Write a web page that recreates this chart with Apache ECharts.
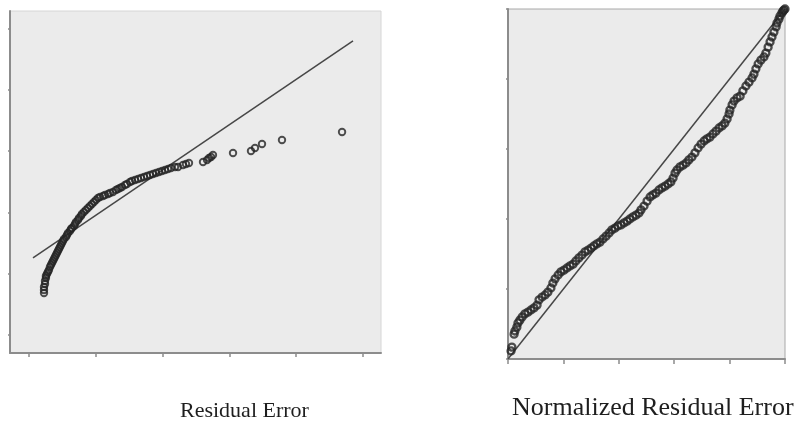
<!DOCTYPE html>
<html>
<head>
<meta charset="utf-8">
<script src="https://cdn.jsdelivr.net/npm/echarts@6/dist/echarts.min.js"></script>
<style>
  html, body { margin: 0; padding: 0; background: #fff; }
  #chart { width: 801px; height: 422px; }
</style>
</head>
<body>
<div id="chart"></div>
<script>
// Q-Q plot of the residual error (observed value, expected normal value)
var qqObserved = [
  2.25, 2.25, 2.25, 2.40, 2.40, 2.54, 2.54, 2.69, 2.84, 2.99, 3.14, 3.29, 3.44, 3.59, 3.74,
  3.89, 4.04, 4.19, 4.34, 4.49, 4.64, 4.79, 4.94, 5.09, 5.24, 5.54, 5.69, 5.84, 6.14, 6.29,
  6.44, 6.74, 6.89, 7.04, 7.34, 7.49, 7.78, 7.93, 8.23, 8.53, 8.83, 9.13, 9.43, 9.73, 10.03,
  10.33, 10.63, 11.08, 11.38, 11.83, 12.13, 12.57, 13.02, 13.32, 13.62, 13.92, 14.37, 14.67,
  15.12, 15.42, 15.87, 16.32, 16.77, 17.22, 17.66, 18.11, 18.56, 19.01, 19.46, 19.91, 20.36,
  20.81, 21.26, 21.86, 22.31, 23.05, 23.50, 23.95, 26.05, 26.65, 26.95, 27.25, 27.54, 30.54,
  33.23, 33.83, 34.88, 37.87, 46.86
];
var qqExpected = [
  6.85, 7.34, 7.83, 8.32, 8.81, 9.30, 9.62, 9.95, 10.28, 10.60, 11.09, 11.42, 11.75, 12.07, 12.40,
  12.72, 13.05, 13.38, 13.70, 14.03, 14.36, 14.68, 15.01, 15.33, 15.66, 15.99, 16.31, 16.64, 16.97, 17.29,
  17.46, 17.78, 18.11, 18.43, 18.76, 19.09, 19.41, 19.74, 20.07, 20.39, 20.72, 21.04, 21.37, 21.70, 22.02,
  22.35, 22.51, 22.68, 22.84, 23.00, 23.16, 23.33, 23.65, 23.82, 23.98, 24.14, 24.47, 24.63,
  24.96, 25.12, 25.29, 25.45, 25.61, 25.77, 25.94, 26.10, 26.26, 26.43, 26.59, 26.75, 26.92,
  27.08, 27.24, 27.41, 27.41, 27.73, 27.90, 28.06, 28.22, 28.55, 28.87, 29.04, 29.36, 29.69,
  30.02, 30.51, 31.16, 31.81, 33.12
];
var qqLineX = [0.6, 48.5];
var qqLineY = [12.56, 47.96];
var qqTicks = [0, 10, 20, 30, 40, 50];

// P-P plot of the normalized residual error (observed cum prob, expected cum prob)
var ppObserved = [
  0.011, 0.014, 0.022, 0.025, 0.032, 0.036, 0.043, 0.051, 0.061, 0.072, 0.083, 0.094, 0.105, 0.112,
  0.123, 0.134, 0.144, 0.155, 0.162, 0.170, 0.181, 0.191, 0.202, 0.213, 0.224, 0.235, 0.245, 0.256,
  0.267, 0.278, 0.289, 0.300, 0.310, 0.321, 0.332, 0.343, 0.354, 0.365, 0.375, 0.386, 0.397, 0.408,
  0.419, 0.430, 0.440, 0.451, 0.462, 0.473, 0.480, 0.491, 0.502, 0.513, 0.523, 0.534, 0.545, 0.556,
  0.567, 0.578, 0.588, 0.596, 0.603, 0.610, 0.621, 0.632, 0.643, 0.653, 0.664, 0.675, 0.686, 0.697,
  0.708, 0.718, 0.729, 0.740, 0.751, 0.762, 0.773, 0.783, 0.791, 0.798, 0.801, 0.809, 0.816, 0.827,
  0.838, 0.848, 0.859, 0.870, 0.881, 0.888, 0.895, 0.903, 0.913, 0.924, 0.931, 0.939, 0.946, 0.953,
  0.960, 0.968, 0.971, 0.978, 0.982, 0.989, 0.993, 0.996, 1.000
];
var ppExpected = [
  0.023, 0.034, 0.071, 0.080, 0.091, 0.103, 0.111, 0.120, 0.129, 0.134, 0.140, 0.146, 0.154, 0.169,
  0.177, 0.183, 0.191, 0.203, 0.217, 0.229, 0.240, 0.249, 0.254, 0.260, 0.266, 0.271, 0.280, 0.289,
  0.297, 0.306, 0.311, 0.317, 0.323, 0.329, 0.334, 0.343, 0.351, 0.360, 0.369, 0.374, 0.380, 0.383,
  0.389, 0.394, 0.400, 0.406, 0.411, 0.417, 0.426, 0.437, 0.451, 0.463, 0.469, 0.474, 0.483, 0.489,
  0.494, 0.500, 0.506, 0.517, 0.531, 0.540, 0.549, 0.554, 0.560, 0.569, 0.577, 0.589, 0.603, 0.614,
  0.623, 0.629, 0.634, 0.643, 0.651, 0.660, 0.666, 0.674, 0.686, 0.700, 0.711, 0.726, 0.737, 0.746,
  0.751, 0.766, 0.780, 0.791, 0.803, 0.814, 0.829, 0.843, 0.854, 0.863, 0.874, 0.891, 0.906, 0.920,
  0.934, 0.949, 0.960, 0.971, 0.980, 0.989, 0.994, 0.997, 1.000
];
var ppLine = [0, 1];
var ppTicks = [0, 0.2, 0.4, 0.6, 0.8, 1.0];

var titles = ['Residual Error', 'Normalized Residual Error'];

function pairs(xs, ys) {
  var out = [];
  for (var i = 0; i < xs.length; i++) {
    out.push([xs[i], ys[i]]);
  }
  return out;
}

var axisColor = '#8c8c8c';

function valueAxis(index, min, max, ticks, tickLen) {
  return {
    type: 'value',
    gridIndex: index,
    min: min,
    max: max,
    splitLine: { show: false },
    axisLabel: { show: false },
    axisLine: { show: true, onZero: false, lineStyle: { color: axisColor, width: 2 } },
    axisTick: {
      show: true,
      length: tickLen,
      customValues: ticks,
      lineStyle: { color: axisColor, width: 1.5 }
    }
  };
}

// hollow markers, the dense runs merge into a dark band as in the source
function dots(width) {
  return {
    color: 'rgba(0,0,0,0)',
    borderColor: '#242424',
    borderWidth: width
  };
}

var chart = echarts.init(document.getElementById('chart'), null, { renderer: 'canvas' });

chart.setOption({
  animation: false,
  backgroundColor: '#fff',
  grid: [{
    left: 10, top: 11, width: 371, height: 342,
    show: true, backgroundColor: '#ebebeb', borderColor: '#d6d6d6', borderWidth: 1
  }, {
    left: 508, top: 9, width: 277, height: 350,
    show: true, backgroundColor: '#ebebeb', borderColor: '#a8a8a8', borderWidth: 1
  }],
  xAxis: [
    valueAxis(0, -2.84, 52.69, qqTicks, 4),
    valueAxis(1, 0, 1, ppTicks, 5)
  ],
  yAxis: [
    valueAxis(0, -2.94, 52.85, qqTicks, 2),
    valueAxis(1, 0, 1, ppTicks, 2)
  ],
  series: [{
    type: 'line',
    xAxisIndex: 0, yAxisIndex: 0,
    data: pairs(qqLineX, qqLineY),
    symbol: 'none',
    lineStyle: { color: '#474747', width: 1.5 },
    z: 2
  }, {
    type: 'scatter',
    xAxisIndex: 0, yAxisIndex: 0,
    data: pairs(qqObserved, qqExpected),
    symbol: 'circle',
    symbolSize: 6.5,
    itemStyle: dots(1.9),
    z: 3
  }, {
    type: 'line',
    xAxisIndex: 1, yAxisIndex: 1,
    data: pairs(ppLine, ppLine),
    symbol: 'none',
    lineStyle: { color: '#474747', width: 1.5 },
    z: 2
  }, {
    type: 'scatter',
    xAxisIndex: 1, yAxisIndex: 1,
    data: pairs(ppObserved, ppExpected),
    symbol: 'circle',
    symbolSize: 7,
    itemStyle: dots(2.3),
    z: 3
  }],
  graphic: [{
    type: 'text',
    left: 180, top: 400,
    style: { text: titles[0], font: '22px "Liberation Serif"', fill: '#1e1e1e' }
  }, {
    type: 'text',
    left: 512, top: 395,
    style: { text: titles[1], font: '26px "Liberation Serif"', fill: '#1e1e1e' }
  }]
});
</script>
</body>
</html>
